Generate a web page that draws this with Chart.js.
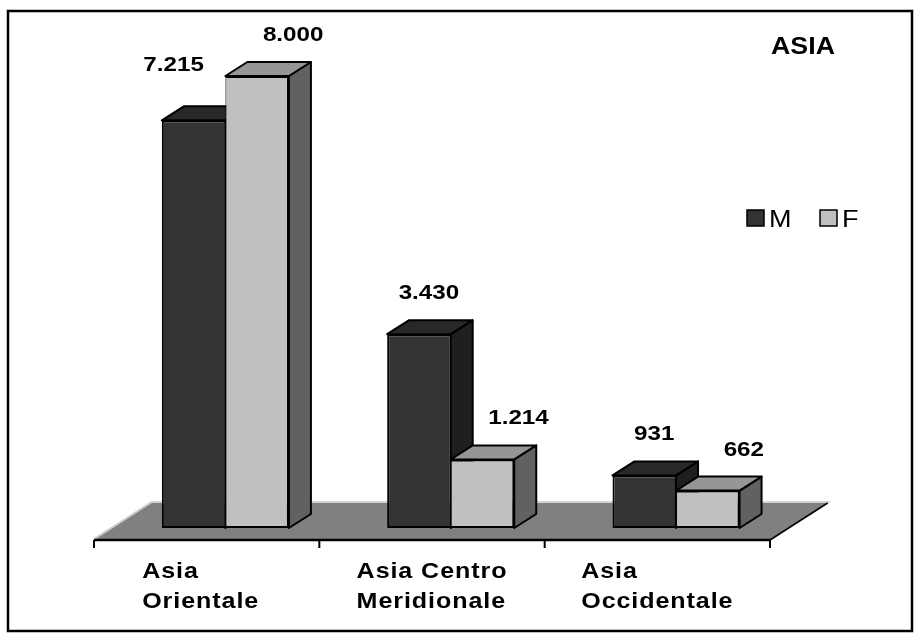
<!DOCTYPE html>
<html>
<head>
<meta charset="utf-8">
<script src="https://cdn.jsdelivr.net/npm/chart.js@4.4.0/dist/chart.umd.min.js"></script>
<style>
  html, body { margin: 0; padding: 0; background: #ffffff; }
  canvas { display: block; }
</style>
</head>
<body>
<canvas id="chart" width="919" height="636"></canvas>
<script>
// Data
const regions = [['Asia', 'Orientale'], ['Asia Centro', 'Meridionale'], ['Asia', 'Occidentale']];
const seriesNames = ['M', 'F'];
const maleValues = [7215, 3430, 931];
const femaleValues = [8000, 1214, 662];
const chartTitle = 'ASIA';

// Styling
const FONT = '"Liberation Sans", Arial, Helvetica, sans-serif';
const DEPTH = { dx: 22, dy: -14 };                               // bar depth
const FLOOR = { frontDx: -18.7, frontDy: 12, backDx: 38.9, backDy: -25 };
const FACES = [
  { front: '#333333', top: '#282828', side: '#1f1f1f' },
  { front: '#c0c0c0', top: '#969696', side: '#616161' }
];

function fmt(v) {
  return String(v).replace(/\B(?=(\d{3})+(?!\d))/g, '.');
}

function poly(ctx, pts) {
  ctx.beginPath();
  ctx.moveTo(pts[0][0], pts[0][1]);
  for (let i = 1; i < pts.length; i++) ctx.lineTo(pts[i][0], pts[i][1]);
  ctx.closePath();
}

// Text drawn with a horizontal stretch factor sx; align is 'left' or 'center'
function wideText(ctx, s, x, y, font, sx, align, spacing) {
  ctx.save();
  ctx.font = font;
  ctx.letterSpacing = (spacing || 0) + 'px';
  ctx.textBaseline = 'alphabetic';
  ctx.textAlign = 'left';
  const w = ctx.measureText(s).width * sx;
  const x0 = align === 'center' ? x - w / 2 : x;
  ctx.translate(x0, y);
  ctx.scale(sx, 1);
  ctx.fillText(s, 0, 0);
  ctx.restore();
  return w;
}

function wideWidth(ctx, s, font, sx, spacing) {
  ctx.save();
  ctx.font = font;
  ctx.letterSpacing = (spacing || 0) + 'px';
  const w = ctx.measureText(s).width * sx;
  ctx.restore();
  return w;
}

// Frame, floor, bar sides/tops, value labels, category labels, title and legend
const box3d = {
  id: 'box3d',
  beforeDraw(chart) {
    const ctx = chart.ctx;
    ctx.save();
    ctx.strokeStyle = '#000';
    ctx.lineWidth = 2.5;
    ctx.strokeRect(8, 11, 904, 620);
    ctx.restore();
  },
  beforeDatasetsDraw(chart) {
    const { ctx, chartArea: a, scales: { x, y } } = chart;
    const base = y.getPixelForValue(0);
    const fl = [a.left + FLOOR.frontDx, base + FLOOR.frontDy];
    const fr = [a.right + FLOOR.frontDx, base + FLOOR.frontDy];
    const br = [a.right + FLOOR.backDx, base + FLOOR.backDy];
    const bl = [a.left + FLOOR.backDx, base + FLOOR.backDy];
    ctx.save();
    ctx.lineJoin = 'round';
    // floor
    ctx.fillStyle = '#808080';
    poly(ctx, [fl, fr, br, bl]);
    ctx.fill();
    ctx.strokeStyle = '#c8c8c8';
    ctx.lineWidth = 1.5;
    ctx.beginPath();
    ctx.moveTo(fl[0], fl[1] - 1);
    ctx.lineTo(bl[0], bl[1] - 1);
    ctx.lineTo(br[0] + 2, br[1] - 1);
    ctx.stroke();
    ctx.strokeStyle = '#000';
    ctx.lineWidth = 1.5;
    ctx.beginPath();
    ctx.moveTo(br[0], br[1]);
    ctx.lineTo(fr[0], fr[1]);
    ctx.stroke();
    ctx.lineWidth = 2.5;
    ctx.beginPath();
    ctx.moveTo(fl[0], fl[1]);
    ctx.lineTo(fr[0], fr[1]);
    ctx.stroke();
    // category tick marks on the front edge
    const n = chart.data.labels.length;
    const step = (a.right - a.left) / n;
    ctx.lineWidth = 2;
    for (let k = 0; k <= n; k++) {
      const tx = fl[0] + k * step;
      ctx.beginPath();
      ctx.moveTo(tx, fl[1]);
      ctx.lineTo(tx, fl[1] + 8);
      ctx.stroke();
    }
    // side and top faces of each bar
    ctx.lineWidth = 2;
    for (let i = 0; i < n; i++) {
      chart.data.datasets.forEach((ds, d) => {
        const bar = chart.getDatasetMeta(d).data[i];
        const p = bar.getProps(['x', 'y', 'width'], true);
        const l = p.x - p.width / 2, r = p.x + p.width / 2, t = p.y;
        const side = [[r, t], [r + DEPTH.dx, t + DEPTH.dy], [r + DEPTH.dx, base + DEPTH.dy], [r, base]];
        const top = [[l, t], [r, t], [r + DEPTH.dx, t + DEPTH.dy], [l + DEPTH.dx, t + DEPTH.dy]];
        ctx.fillStyle = FACES[d].side;
        poly(ctx, side);
        ctx.fill();
        ctx.stroke();
        ctx.fillStyle = FACES[d].top;
        poly(ctx, top);
        ctx.fill();
        ctx.stroke();
      });
    }
    ctx.restore();
  },
  afterDatasetsDraw(chart) {
    const { ctx, scales: { x, y } } = chart;
    const base = y.getPixelForValue(0);
    ctx.save();
    ctx.fillStyle = '#000';

    // value labels
    const labelShift = [10, 36];
    const valueFont = 'bold 19.5px ' + FONT;
    chart.data.datasets.forEach((ds, d) => {
      chart.getDatasetMeta(d).data.forEach((bar, i) => {
        const p = bar.getProps(['x', 'y'], true);
        let lx = p.x + labelShift[d];
        let ly = p.y - 35;
        if (d === 0 && i === 0) { lx -= 30; ly -= 14; }
        wideText(ctx, fmt(ds.data[i]), lx, ly, valueFont, 1.24, 'center', 0);
      });
    });

    // category labels, left-aligned lines in a block centred on the front edge
    const catFont = 'bold 22px ' + FONT;
    const catShift = [-6, 0, 0];
    chart.data.labels.forEach((lines, i) => {
      const cx = x.getPixelForValue(i) + FLOOR.frontDx + catShift[i];
      const w = Math.max(...lines.map(s => wideWidth(ctx, s, catFont, 1.14, 0.8)));
      lines.forEach((s, j) => {
        wideText(ctx, s, cx - w / 2, base + 50 + j * 30, catFont, 1.14, 'left', 0.8);
      });
    });

    // title
    wideText(ctx, chartTitle, 803, 54, 'bold 23.5px ' + FONT, 1.14, 'center', 0);

    // legend
    const legendX = [747, 820];
    chart.data.datasets.forEach((ds, d) => {
      ctx.fillStyle = ds.backgroundColor;
      ctx.fillRect(legendX[d], 210, 17, 16);
      ctx.strokeStyle = '#000';
      ctx.lineWidth = 1.5;
      ctx.strokeRect(legendX[d], 210, 17, 16);
      ctx.fillStyle = '#000';
      wideText(ctx, ds.label, legendX[d] + 22, 227, '23.5px ' + FONT, 1.15, 'left', 0);
    });
    ctx.restore();
  }
};

new Chart(document.getElementById('chart'), {
  type: 'bar',
  data: {
    labels: regions,
    datasets: [
      {
        label: seriesNames[0],
        data: maleValues,
        backgroundColor: FACES[0].front,
        borderColor: '#000',
        borderWidth: { left: 2, right: 1, top: 2, bottom: 2 },
        borderSkipped: false,
        categoryPercentage: 0.564,
        barPercentage: 1
      },
      {
        label: seriesNames[1],
        data: femaleValues,
        backgroundColor: FACES[1].front,
        borderColor: '#000',
        borderWidth: { left: 1, right: 2, top: 2, bottom: 2 },
        borderSkipped: false,
        categoryPercentage: 0.564,
        barPercentage: 1
      }
    ]
  },
  options: {
    responsive: false,
    animation: false,
    layout: { padding: { left: 112.7, right: 130.3, top: 19.5, bottom: 0 } },
    plugins: {
      legend: { display: false },
      title: { display: false },
      tooltip: { enabled: false }
    },
    scales: {
      x: {
        grid: { display: false, drawTicks: false },
        border: { display: false },
        ticks: { display: false },
        afterFit(scale) { scale.height = 108; }
      },
      y: { display: false, min: 0, max: 9000 }
    }
  },
  plugins: [box3d]
});
</script>
</body>
</html>
